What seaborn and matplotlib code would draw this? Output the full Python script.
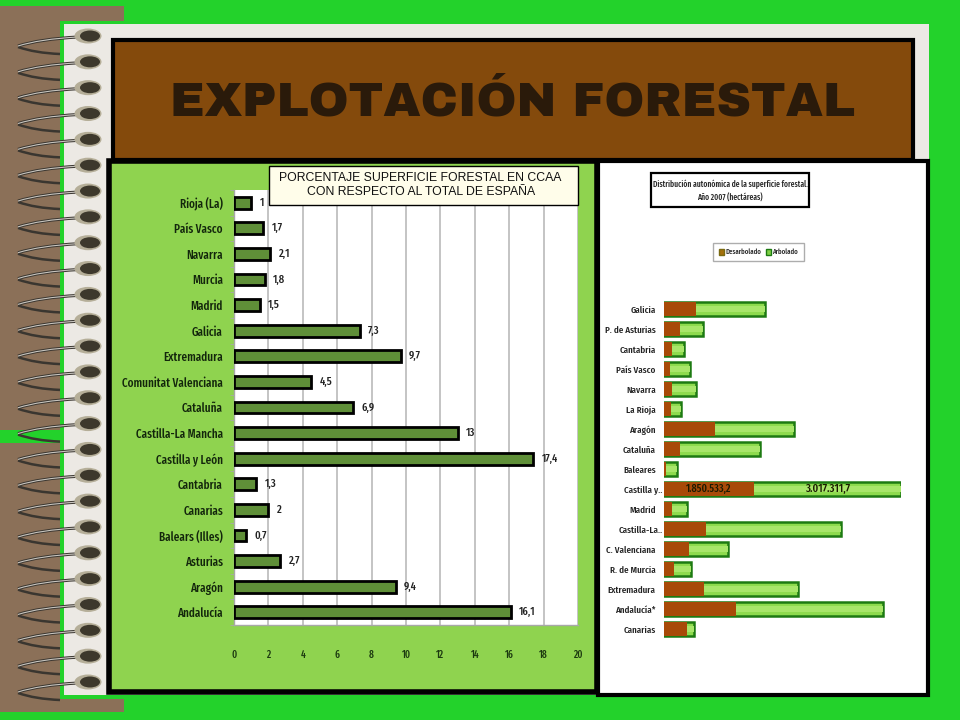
import numpy as np
import pandas as pd
import matplotlib
matplotlib.use("Agg")
import matplotlib.pyplot as plt
from matplotlib.font_manager import FontProperties
from matplotlib.patches import Rectangle, Ellipse, PathPatch, Patch
from matplotlib.path import Path
from matplotlib.textpath import TextPath
from matplotlib.transforms import ScaledTranslation
import seaborn as sns

# left chart: % of forest area per region
regiones = ["Rioja (La)", "País Vasco", "Navarra", "Murcia", "Madrid", "Galicia", "Extremadura",
            "Comunitat Valenciana", "Cataluña", "Castilla-La Mancha", "Castilla y León", "Cantabria",
            "Canarias", "Balears (Illes)", "Asturias", "Aragón", "Andalucía"]
porcentaje = [1, 1.7, 2.1, 1.8, 1.5, 7.3, 9.7, 4.5, 6.9, 13, 17.4, 1.3, 2, 0.7, 2.7, 9.4, 16.1]
etiquetas = ["1", "1,7", "2,1", "1,8", "1,5", "7,3", "9,7", "4,5", "6,9", "13", "17,4", "1,3",
             "2", "0,7", "2,7", "9,4", "16,1"]
ticks_x = [0, 2, 4, 6, 8, 10, 12, 14, 16, 18, 20]

# right chart: hectares
ccaa = ["Galicia", "P. de Asturias", "Cantabria", "País Vasco", "Navarra", "La Rioja", "Aragón",
        "Cataluña", "Baleares", "Castilla y..", "Madrid", "Castilla-La..", "C. Valenciana",
        "R. de Murcia", "Extremadura", "Andalucía*", "Canarias"]
desarbolado = [650000, 335000, 165000, 115000, 165000, 135000, 1050000, 330000, 35000, 1850533.2,
               165000, 855000, 520000, 205000, 815000, 1480000, 465000]
arbolado = [1420000, 470000, 250000, 425000, 490000, 210000, 1610000, 1640000, 230000, 3017311.7,
            310000, 2780000, 795000, 350000, 1940000, 3020000, 160000]

W, H = 960, 720
VERDE_FONDO = "#23d22b"
MARRON = "#8b7058"
NARROW = ["Fira Sans Extra Condensed", "Sofia Sans Extra Condensed", "Barlow Condensed",
          "PT Sans Narrow", "Roboto", "DejaVu Sans"]

sns.set_style("white")
plt.rcParams["font.family"] = ["Liberation Sans", "DejaVu Sans"]


def px_axes(fig, x0, y0, x1, y1):
    return fig.add_axes([x0 / W, 1 - y1 / H, (x1 - x0) / W, (y1 - y0) / H])


def caja(ax, x0, y0, x1, y1, **kw):
    ax.add_patch(Rectangle((x0, y0), x1 - x0, y1 - y0, **kw))


def tam(texto, ancho_px):
    # font size that gives this text the wanted width, whichever condensed font is there
    prop = FontProperties(family=NARROW, weight="medium")
    w = TextPath((0, 0), texto, size=10, prop=prop).get_extents().width
    return 10 * ancho_px / (w * 100 / 72)


fig = plt.figure(figsize=(9.6, 7.2), dpi=100, facecolor=VERDE_FONDO)

# page background
bg = fig.add_axes([0, 0, 1, 1])
bg.set_xlim(0, W)
bg.set_ylim(H, 0)
bg.axis("off")
caja(bg, 0, 6, 124, 21, color=MARRON, lw=0)
caja(bg, 0, 6, 60, 712, color=MARRON, lw=0)
caja(bg, 0, 699, 124, 712, color=MARRON, lw=0)
caja(bg, 0, 430, 63, 443, color=VERDE_FONDO, lw=0)
caja(bg, 64, 24, 929, 695, color="#ece9e4", lw=0)

# spiral binding
for i in range(26):
    y = 36 + i * 25.84
    atras = Path([(60, y + 18), (35, y + 17), (18, y + 11)], [Path.MOVETO, Path.CURVE3, Path.CURVE3])
    frente = Path([(18, y + 10), (40, y + 3), (78, y + 1)], [Path.MOVETO, Path.CURVE3, Path.CURVE3])
    bg.add_patch(PathPatch(atras, fc="none", ec="#3a3630", lw=1.8))
    bg.add_patch(PathPatch(frente, fc="none", ec="#3a3630", lw=2.2))
    bg.add_patch(PathPatch(frente, fc="none", ec="#c8c5bf", lw=0.8))
    bg.add_patch(Ellipse((88, y), 27, 15, color="#b5ae98", lw=0))
    bg.add_patch(Ellipse((90, y), 20, 11, color="#3d382c", lw=0))

# title
caja(bg, 113, 40, 913, 160, fc="#844a0c", ec="black", lw=3)
bg.text(512, 102, "EXPLOTACIÓN FORESTAL", ha="center", va="center", fontsize=34.6,
        fontweight="bold", color="#2a1a0a", family=["Archivo Black", "Liberation Sans"])

# panels
caja(bg, 109, 161, 597, 692, fc="#8fd34f", ec="black", lw=4)
caja(bg, 598, 161, 928, 695, fc="white", ec="black", lw=3)

# left chart
ax = px_axes(fig, 234, 190, 578, 625)
ax.set_facecolor("white")
df_izq = pd.DataFrame({"region": regiones, "pct": porcentaje})
sns.barplot(data=df_izq, x="pct", y="region", color="#5f8f38", saturation=1, width=0.46,
            edgecolor="black", linewidth=2, ax=ax, zorder=3)
ax.set_xlim(0, 20)
ax.set_ylim(len(regiones) - 0.5, -0.5)
ax.set_xlabel("")
ax.set_ylabel("")
ax.set_xticks(ticks_x)
ax.set_yticks(np.arange(len(regiones) + 1) - 0.5, minor=True)
ax.grid(axis="x", color="#c4c4c4", lw=1.4, zorder=0)
ax.grid(axis="y", visible=False)
for s in ["top", "right"]:
    ax.spines[s].set_visible(False)
for s in ["left", "bottom"]:
    ax.spines[s].set_color("#a8a8a8")
    ax.spines[s].set_linewidth(1)
ax.tick_params(axis="x", length=3, color="#a8a8a8", direction="out", pad=15,
               labelsize=tam("20", 9), labelcolor="#1c3a10")
ax.tick_params(axis="y", which="major", length=0, pad=8,
               labelsize=tam("Comunitat Valenciana", 100), labelcolor="#13260c")
ax.tick_params(axis="y", which="minor", length=3, color="#a8a8a8", left=True)
for t in ax.get_xticklabels():
    t.set_family(NARROW)
    t.set_fontweight("medium")
for t in ax.get_yticklabels():
    t.set_family(NARROW)
    t.set_fontweight("medium")
for yy, v, e in zip(range(len(porcentaje)), porcentaje, etiquetas):
    ax.annotate(e, (v, yy), xytext=(6, 0), textcoords="offset points", va="center", ha="left",
                fontsize=tam("17,4", 16), family=NARROW, fontweight="medium", color="#222222")

bg.set_zorder(0)
ax.set_zorder(1)
# layer above the charts for the boxes
ov = fig.add_axes([0, 0, 1, 1], zorder=5)
ov.set_xlim(0, W)
ov.set_ylim(H, 0)
ov.axis("off")
ov.patch.set_alpha(0)
caja(ov, 269, 166, 578, 205, fc="#fffdea", ec="black", lw=1)
ov.text(420, 178, "PORCENTAJE SUPERFICIE FORESTAL EN CCAA", ha="center", va="center",
        fontsize=8.8, color="#111111")
ov.text(421, 192, "CON RESPECTO AL TOTAL DE ESPAÑA", ha="center", va="center",
        fontsize=8.8, color="#111111")

# right chart, totals first then the brown part on top
total = [d + a for d, a in zip(desarbolado, arbolado)]
df_der = pd.DataFrame({"ccaa": ccaa, "des": desarbolado, "total": total})
ax2 = px_axes(fig, 664, 299, 901, 639)
ax2.patch.set_alpha(0)
sns.barplot(data=df_der, x="total", y="ccaa", color="#8edb4e", saturation=1, width=0.66,
            edgecolor="#1d7a12", linewidth=1.8, ax=ax2)
sns.barplot(data=df_der, x="total", y="ccaa", color="#a8e66a", saturation=1, width=0.26,
            linewidth=0, ax=ax2)
sns.barplot(data=df_der, x="des", y="ccaa", color="#a84a08", saturation=1, width=0.68,
            linewidth=0, ax=ax2)
ax2.set_xlim(0, max(total))
ax2.set_ylim(len(ccaa) - 0.5, -0.5)
ax2.set_xlabel("")
ax2.set_ylabel("")
ax2.set_xticks([])
sns.despine(ax=ax2, left=True, bottom=True)
ax2.tick_params(axis="y", length=0, pad=6, labelsize=tam("C. Valenciana", 49), labelcolor="#222222")
for t in ax2.get_yticklabels():
    t.set_family(NARROW)
    t.set_fontweight("medium")
    if t.get_text().endswith(".."):
        t.set_transform(t.get_transform() + ScaledTranslation(5 / 72, 0, fig.dpi_scale_trans))

i_cyl = ccaa.index("Castilla y..")
ax2.text(desarbolado[i_cyl] / 2, i_cyl, "1.850.533,2", ha="center", va="center",
         fontsize=tam("1.850.533,2", 45), family=NARROW, fontweight="medium", color="#1a1a00")
ax2.text(desarbolado[i_cyl] + arbolado[i_cyl] / 2, i_cyl, "3.017.311,7", ha="center", va="center",
         fontsize=tam("3.017.311,7", 45), family=NARROW, fontweight="medium", color="#1a1a00")

# small title and legend of the right chart
caja(ov, 651, 173, 809, 207, fc="white", ec="black", lw=1.6)
tam_titulo = tam("Distribución autonómica de la superficie forestal.", 153)
ov.text(730, 184, "Distribución autonómica de la superficie forestal.", ha="center", va="center",
        fontsize=tam_titulo, family=NARROW, fontweight="medium", color="#222222")
ov.text(730, 198, "Año 2007 (hectáreas)", ha="center", va="center",
        fontsize=tam_titulo, family=NARROW, fontweight="medium", color="#222222")
handles = [Patch(fc="#a5700c", ec="#7a6a10", label="Desarbolado"),
           Patch(fc="#7fcf45", ec="#1d7a12", label="Arbolado")]
fig.legend(handles=handles, ncol=2, loc="center", bbox_to_anchor=(758.5 / W, 1 - 252 / H),
           frameon=True, fancybox=False, edgecolor="#999999", facecolor="white",
           prop={"family": NARROW, "size": tam("Desarbolado", 35), "weight": "medium"}, handlelength=0.7,
           handleheight=0.9, handletextpad=0.2, columnspacing=0.6, borderpad=0.8, borderaxespad=0)

fig.savefig("out.png", dpi=100, facecolor=fig.get_facecolor())
